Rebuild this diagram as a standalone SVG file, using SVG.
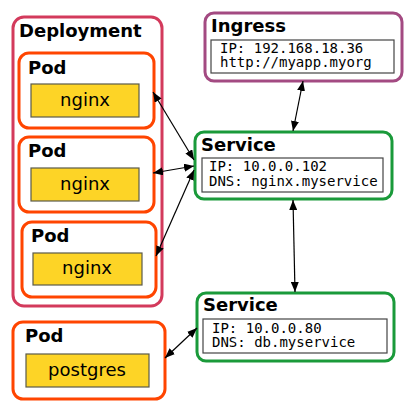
<svg xmlns="http://www.w3.org/2000/svg" width="411" height="408" viewBox="0 0 411 408">
<defs>
<style>
.title{font-family:"DejaVu Sans",sans-serif;font-weight:bold;font-size:18px;fill:#000}
.app{font-family:"DejaVu Sans",sans-serif;font-size:18px;fill:#000;text-anchor:middle}
.mono{font-family:"DejaVu Sans Mono",monospace;font-size:14px;fill:#000}
.dep{fill:#fff;stroke:#d33a5c;stroke-width:3}
.pod{fill:#fff;stroke:#ff4500;stroke-width:3}
.ing{fill:#fff;stroke:#a34a82;stroke-width:3}
.svc{fill:#fff;stroke:#1a9a3a;stroke-width:3}
.cont{fill:#fdd426;stroke:#5a5a4a;stroke-width:1.2}
.info{fill:#fff;stroke:#444;stroke-width:1.2}
.edge{stroke:#000;stroke-width:1.2;fill:none;marker-start:url(#ah);marker-end:url(#ah)}
</style>
<marker id="ah" viewBox="0 0 10 8" refX="10" refY="4" markerWidth="10" markerHeight="8" markerUnits="userSpaceOnUse" orient="auto-start-reverse">
<path d="M0,0 L10,4 L0,8 Z" fill="#000"/>
</marker>
</defs>
<rect width="411" height="408" fill="#fff"/>
<g id="deployment">
<rect class="dep" x="13" y="17" width="149" height="289" rx="11"/>
<text class="title" x="19" y="37">Deployment</text>
</g>
<g id="pod1">
<rect class="pod" x="19" y="53" width="135" height="75" rx="10"/>
<text class="title" x="28" y="74">Pod</text>
<rect class="cont" x="31" y="84" width="108" height="33"/>
<text class="app" x="85" y="106">nginx</text>
</g>
<g id="pod2">
<rect class="pod" x="19" y="137" width="135" height="75" rx="10"/>
<text class="title" x="28" y="157">Pod</text>
<rect class="cont" x="31" y="168" width="108" height="33"/>
<text class="app" x="85" y="190">nginx</text>
</g>
<g id="pod3">
<rect class="pod" x="22" y="222" width="134" height="75" rx="10"/>
<text class="title" x="31" y="242">Pod</text>
<rect class="cont" x="33" y="253" width="109" height="32"/>
<text class="app" x="87" y="274">nginx</text>
</g>
<g id="pod-postgres">
<rect class="pod" x="13" y="322" width="152" height="77" rx="10"/>
<text class="title" x="25" y="342">Pod</text>
<rect class="cont" x="26" y="354" width="123" height="33"/>
<text class="app" x="87" y="376">postgres</text>
</g>
<g id="ingress">
<rect class="ing" x="205" y="13" width="197" height="68" rx="9"/>
<text class="title" x="211" y="32">Ingress</text>
<rect class="info" x="211" y="40" width="183" height="33"/>
<text class="mono" x="220" y="53">IP: 192.168.18.36</text>
<text class="mono" x="220" y="67">http://myapp.myorg</text>
</g>
<g id="service-nginx">
<rect class="svc" x="195" y="132" width="197" height="67" rx="9"/>
<text class="title" x="201" y="151">Service</text>
<rect class="info" x="202" y="158" width="181" height="34"/>
<text class="mono" x="209" y="171">IP: 10.0.0.102</text>
<text class="mono" x="209" y="186">DNS: nginx.myservice</text>
</g>
<g id="service-db">
<rect class="svc" x="197" y="293" width="197" height="68" rx="9"/>
<text class="title" x="203" y="311">Service</text>
<rect class="info" x="203" y="319" width="184" height="34"/>
<text class="mono" x="212" y="333">IP: 10.0.0.80</text>
<text class="mono" x="212" y="347">DNS: db.myservice</text>
</g>
<g id="connectors">
<line class="edge" x1="303" y1="81" x2="293" y2="131"/>
<line class="edge" x1="293" y1="200" x2="295" y2="292"/>
<line class="edge" x1="153" y1="92" x2="194" y2="160"/>
<line class="edge" x1="153" y1="173" x2="194" y2="166"/>
<line class="edge" x1="156" y1="256" x2="194" y2="170"/>
<line class="edge" x1="165" y1="358" x2="197" y2="328"/>
</g>
</svg>
